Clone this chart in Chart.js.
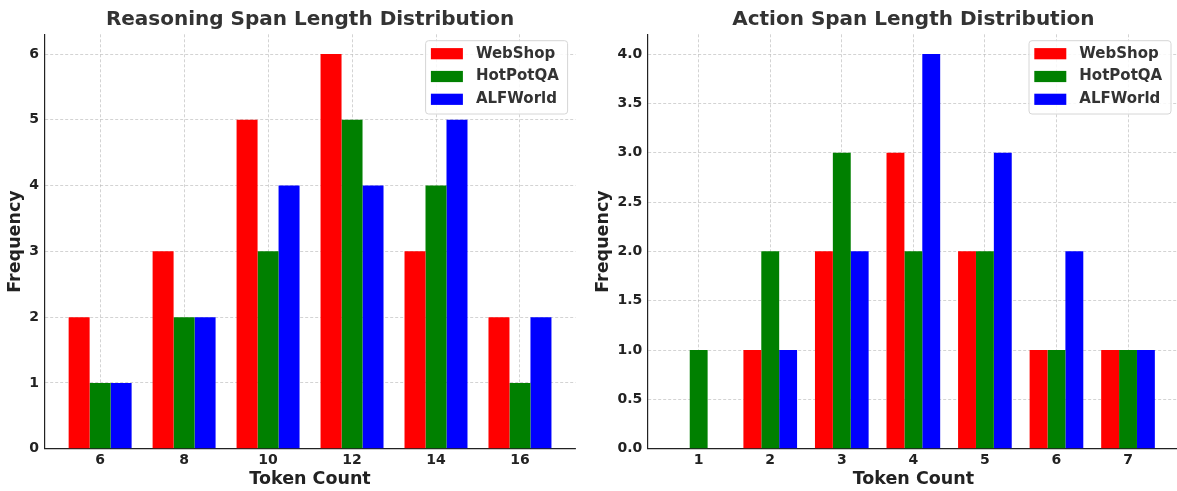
<!DOCTYPE html>
<html><head><meta charset="utf-8">
<script src="https://cdn.jsdelivr.net/npm/chart.js@4.4.1/dist/chart.umd.min.js"></script>
<style>
html,body{margin:0;padding:0;background:#fff;overflow:hidden;width:1177px;height:491px;position:relative;}
#c1{position:absolute;left:0;top:0;}
#c2{position:absolute;left:588px;top:0;}
</style></head><body>
<canvas id="c1" width="588" height="491"></canvas>
<canvas id="c2" width="591" height="491"></canvas>
<script>
// ---- data ----
const seriesNames = ['WebShop', 'HotPotQA', 'ALFWorld'];
const seriesColors = ['#ff0000', '#008000', '#0000ff'];

const reasoningTokens = [6, 8, 10, 12, 14, 16];
const reasoningWebShop = [2, 3, 5, 6, 3, 2];
const reasoningHotPotQA = [1, 2, 3, 5, 4, 1];
const reasoningALFWorld = [1, 2, 4, 4, 5, 2];
const reasoningYTicks = [0, 1, 2, 3, 4, 5, 6];

const actionTokens = [1, 2, 3, 4, 5, 6, 7];
const actionWebShop = [0, 1, 2, 3, 2, 1, 1];
const actionHotPotQA = [1, 2, 3, 2, 2, 1, 1];
const actionALFWorld = [0, 1, 2, 4, 3, 2, 1];
const actionYTicks = [0, 0.5, 1, 1.5, 2, 2.5, 3, 3.5, 4];

// ---- styling ----
Chart.defaults.font.family = '"DejaVu Sans", sans-serif';
const CAT_PCT = 0.75;
const GRID_COLOR = 'rgba(176,176,176,0.7)';
const AXIS_COLOR = '#222';

const legendPlugin = {
  id: 'boxLegend',
  afterDraw(chart) {
    const ctx = chart.ctx, a = chart.chartArea;
    const w = 142, h = 73.3;
    const x = a.right - 8 - w, y = a.top + 6.4;
    ctx.save();
    ctx.beginPath();
    if (ctx.roundRect) ctx.roundRect(x, y, w, h, 3); else ctx.rect(x, y, w, h);
    ctx.fillStyle = 'rgba(255,255,255,0.85)';
    ctx.fill();
    ctx.lineWidth = 1;
    ctx.strokeStyle = '#d6d6d6';
    ctx.stroke();
    ctx.font = 'bold 15px "DejaVu Sans"';
    ctx.textBaseline = 'middle';
    ctx.textAlign = 'left';
    chart.data.datasets.forEach((ds, i) => {
      const cy = y + 13 + i * 22.8;
      ctx.fillStyle = ds.backgroundColor;
      ctx.fillRect(x + 5.3, cy - 5.6, 32, 11.2);
      ctx.fillStyle = '#333';
      ctx.fillText(ds.label, x + 50.3, cy);
    });
    ctx.restore();
  }
};

function makeChart(id, title, xs, seriesData, yTicks, yFmt, yWidth, rightPad) {
  const spacing = Math.min(...xs.slice(1).map((v, i) => v - xs[i]));
  const half = spacing * CAT_PCT / 2;
  const lo = Math.min(...xs) - half, hi = Math.max(...xs) + half;
  const pad = 0.05 * (hi - lo);
  const yMaxData = Math.max(...seriesData.flat());
  const tickFont = { size: 14, weight: 'bold' };
  const titleFont = { size: 17.5, weight: 'bold' };
  return new Chart(document.getElementById(id), {
    type: 'bar',
    data: {
      datasets: seriesData.map((vals, i) => ({
        label: seriesNames[i],
        data: xs.map((x, j) => ({ x: x, y: vals[j] })),
        backgroundColor: seriesColors[i],
        borderWidth: 0,
        categoryPercentage: CAT_PCT,
        barPercentage: 1.0
      }))
    },
    options: {
      responsive: false,
      animation: false,
      layout: { padding: { left: 0, right: rightPad, top: 0, bottom: 0 } },
      plugins: {
        legend: { display: false },
        tooltip: { enabled: false },
        title: {
          display: true, text: title, fullSize: false,
          color: '#333', font: { size: 20, weight: 'bold' },
          padding: { top: 7.5, bottom: 2.8 }
        }
      },
      scales: {
        x: {
          type: 'linear', min: lo - pad, max: hi + pad, offset: false, z: 1,
          afterBuildTicks: s => { s.ticks = xs.map(v => ({ value: v })); },
          afterFit: s => { s.height = 42.3; },
          ticks: { autoSkip: false, maxRotation: 0, padding: 3.4, color: AXIS_COLOR, font: tickFont,
                   callback: v => String(v) },
          grid: { offset: false, drawTicks: false, color: GRID_COLOR, lineWidth: 0.8 },
          border: { display: true, color: AXIS_COLOR, width: 1.2, dash: [3, 2] },
          title: { display: true, text: 'Token Count', color: AXIS_COLOR, font: titleFont,
                   padding: { top: 0, bottom: 1.5 } }
        },
        y: {
          min: 0, max: yMaxData * 1.05, z: 1,
          afterBuildTicks: s => { s.ticks = yTicks.map(v => ({ value: v })); },
          afterFit: s => { s.width = yWidth; },
          ticks: { autoSkip: false, padding: 5.5, color: AXIS_COLOR, font: tickFont, callback: yFmt },
          grid: { drawTicks: false, color: GRID_COLOR, lineWidth: 0.8 },
          border: { display: true, color: AXIS_COLOR, width: 1.2, dash: [3, 2] },
          title: { display: true, text: 'Frequency', color: AXIS_COLOR, font: titleFont,
                   padding: { top: 4.5, bottom: 0 } }
        }
      }
    },
    plugins: [legendPlugin]
  });
}

makeChart('c1', 'Reasoning Span Length Distribution', reasoningTokens,
  [reasoningWebShop, reasoningHotPotQA, reasoningALFWorld], reasoningYTicks,
  v => String(v), 44.5, 12.4);
makeChart('c2', 'Action Span Length Distribution', actionTokens,
  [actionWebShop, actionHotPotQA, actionALFWorld], actionYTicks,
  v => Number(v).toFixed(1), 59.7, 0);
</script>
</body></html>
